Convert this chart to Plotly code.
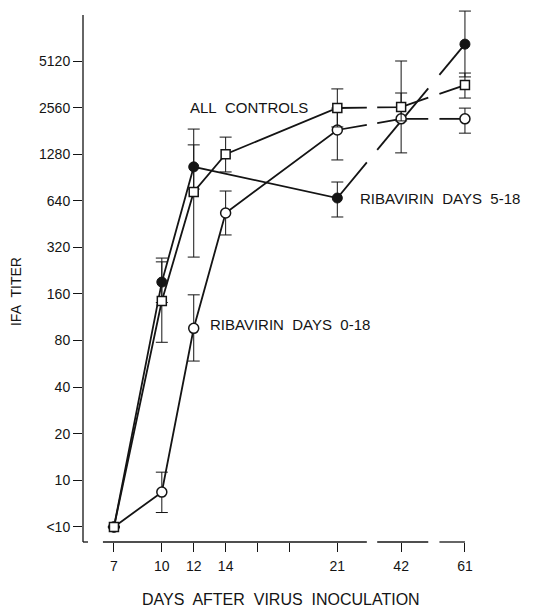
import math
import plotly.graph_objects as go

# ---- data ----
day_labels = ['7', '10', '12', '14', '21', '42', '61']
day_pos = [7, 10, 12, 14, 21, 25, 29]          # positions on the broken day axis
minor_tick_pos = [16, 18]

y_tick_vals = [5, 10, 20, 40, 80, 160, 320, 640, 1280, 2560, 5120]
y_tick_text = ['&lt;10', '10', '20', '40', '80', '160', '320', '640', '1280', '2560', '5120']

# ALL CONTROLS (open squares)
ctrl_days = ['7', '10', '12', '14', '21', '42', '61']
ctrl_val = [5, 144, 730, 1280, 2545, 2580, 3580]
ctrl_hi = [None, 273, 1860, 1650, 3380, 3180, 4280]
ctrl_lo = [None, 78, 277, 983, 1920, 2100, 2950]

# RIBAVIRIN DAYS 5-18 (filled circles)
r518_days = ['7', '10', '12', '21', '61']
r518_val = [5, 191, 1060, 667, 6580]
r518_hi = [None, 258, 1470, 846, 10760]
r518_lo = [None, 141, 762, 503, 4040]

# RIBAVIRIN DAYS 0-18 (open circles)
r018_days = ['7', '10', '12', '14', '21', '42', '61']
r018_val = [5, 8.4, 96, 534, 1835, 2165, 2165]
r018_hi = [None, 11.3, 158, 740, 2540, 5120, 2540]
r018_lo = [None, 6.2, 59, 385, 1175, 1305, 1750]

NB = '\u00a0'
labels = [
    ('ALL' + NB + ' CONTROLS', 2580, 11.64),
    ('RIBAVIRIN' + NB + ' DAYS' + NB + ' 5-18', 660, 22.3),
    ('RIBAVIRIN' + NB + ' DAYS' + NB + ' 0-18', 102, 12.89),
]

# ---- helpers ----
pos = dict(zip(day_labels, day_pos))
breaks = [(22.85, 23.5), (26.7, 27.4)]
INK = '#141414'
FONT = 'Liberation Sans, Arial, sans-serif'


def broken_line(days, vals):
    xs = [pos[d] for d in days]
    ox, oy = [xs[0]], [vals[0]]
    for i in range(len(xs) - 1):
        x0, x1, y0, y1 = xs[i], xs[i + 1], vals[i], vals[i + 1]
        for b0, b1 in breaks:
            if x0 < b0 and x1 > b1:
                for bx, last in ((b0, False), (b1, True)):
                    t = (bx - x0) / (x1 - x0)
                    yv = 10 ** (math.log10(y0) + t * (math.log10(y1) - math.log10(y0)))
                    ox.append(bx)
                    oy.append(yv)
                    if not last:
                        ox.append(None)
                        oy.append(None)
        ox.append(x1)
        oy.append(y1)
    return ox, oy


def errs(vals, hi, lo):
    plus = [None if h is None else h - v for v, h in zip(vals, hi)]
    minus = [None if l is None else v - l for v, l in zip(vals, lo)]
    return plus, minus


fig = go.Figure()

series = [
    (r018_days, r018_val, r018_hi, r018_lo, dict(symbol='circle', size=10, color='white', line=dict(color=INK, width=1.5))),
    (r518_days, r518_val, r518_hi, r518_lo, dict(symbol='circle', size=10, color=INK, line=dict(color=INK, width=1))),
    (ctrl_days, ctrl_val, ctrl_hi, ctrl_lo, dict(symbol='square', size=9, color='white', line=dict(color=INK, width=1.5))),
]

for days, vals, hi, lo, mk in series:
    lx, ly = broken_line(days, vals)
    fig.add_trace(go.Scatter(x=lx, y=ly, mode='lines', line=dict(color=INK, width=1.8),
                             connectgaps=False, hoverinfo='skip', showlegend=False))

for days, vals, hi, lo, mk in series:
    plus, minus = errs(vals, hi, lo)
    fig.add_trace(go.Scatter(
        x=[pos[d] for d in days], y=vals, mode='markers', marker=mk, showlegend=False,
        cliponaxis=False,
        error_y=dict(type='data', symmetric=False, array=plus, arrayminus=minus,
                     color=INK, thickness=1, width=6)))

# axis lines (broken x axis)
x_start = 6.31
segs = [(x_start, breaks[0][0]), (breaks[0][1], breaks[1][0]), (breaks[1][1], day_pos[-1])]
shapes = []
for a, b in segs:
    shapes.append(dict(type='line', xref='x', yref='paper', x0=a, x1=b, y0=0, y1=0,
                       line=dict(color=INK, width=1.3)))
shapes.append(dict(type='line', xref='paper', yref='paper', x0=0, x1=0, y0=0, y1=0.9814,
                   line=dict(color=INK, width=1.3)))
shapes.append(dict(type='line', xref='paper', yref='paper', x0=0, x1=0.0123, y0=0, y1=0,
                   line=dict(color=INK, width=1.3)))

annotations = []
for text, v, xp in labels:
    annotations.append(dict(text=text, x=xp, y=math.log10(v), xref='x', yref='y',
                            xanchor='left', yanchor='middle', showarrow=False,
                            font=dict(family=FONT, size=15, color=INK)))
annotations.append(dict(text='IFA' + NB + ' TITER', x=-0.1646, y=0.4655, xref='paper', yref='paper',
                        textangle=-90, showarrow=False, xanchor='center', yanchor='middle',
                        font=dict(family=FONT, size=14, color=INK)))
annotations.append(dict(text='DAYS' + NB + ' AFTER' + NB + ' VIRUS' + NB + ' INOCULATION',
                        x=0.4865, y=-0.108,
                        xref='paper', yref='paper', showarrow=False, xanchor='center',
                        yanchor='middle', font=dict(family=FONT, size=16, color=INK)))

fig.update_layout(
    width=554, height=610,
    margin=dict(l=83, r=64, t=5, b=68),
    paper_bgcolor='white', plot_bgcolor='white',
    shapes=shapes, annotations=annotations,
    font=dict(family=FONT, size=14, color=INK),
)
fig.update_xaxes(
    range=[5.06, 30.57], showgrid=False, zeroline=False, showline=False,
    tickmode='array', tickvals=day_pos + minor_tick_pos,
    ticktext=day_labels + [''] * len(minor_tick_pos),
    ticks='outside', ticklen=9, tickwidth=1.2, tickcolor=INK,
    ticklabelstandoff=2, tickfont=dict(family=FONT, size=14, color=INK),
)
fig.update_yaxes(
    type='log', range=[0.602, 4.071], showgrid=False, zeroline=False, showline=False,
    tickmode='array', tickvals=y_tick_vals, ticktext=y_tick_text,
    ticks='outside', ticklen=9, tickwidth=1.2, tickcolor=INK,
    tickfont=dict(family=FONT, size=14, color=INK),
)

fig.write_html('out.html')
